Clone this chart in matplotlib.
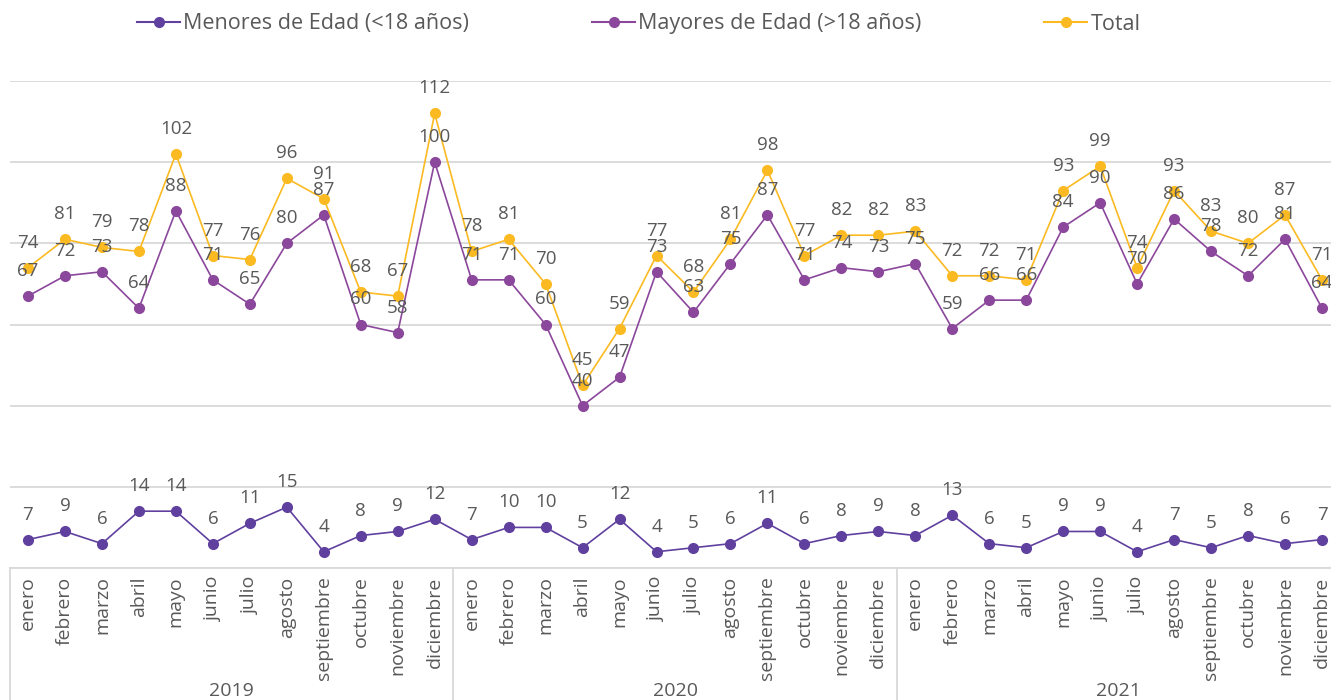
import matplotlib.pyplot as plt
import matplotlib.transforms as mtransforms
from matplotlib.lines import Line2D

plt.rcParams['font.family'] = ['Open Sans', 'DejaVu Sans']

# datos
meses = ["enero", "febrero", "marzo", "abril", "mayo", "junio", "julio",
         "agosto", "septiembre", "octubre", "noviembre", "diciembre"]
anios = ["2019", "2020", "2021"]

menores = [7, 9, 6, 14, 14, 6, 11, 15, 4, 8, 9, 12,
           7, 10, 10, 5, 12, 4, 5, 6, 11, 6, 8, 9,
           8, 13, 6, 5, 9, 9, 4, 7, 5, 8, 6, 7]
mayores = [67, 72, 73, 64, 88, 71, 65, 80, 87, 60, 58, 100,
           71, 71, 60, 40, 47, 73, 63, 75, 87, 71, 74, 73,
           75, 59, 66, 66, 84, 90, 70, 86, 78, 72, 81, 64]
total = [74, 81, 79, 78, 102, 77, 76, 96, 91, 68, 67, 112,
         78, 81, 70, 45, 59, 77, 68, 81, 98, 77, 82, 82,
         83, 72, 72, 71, 93, 99, 74, 93, 83, 80, 87, 71]

etiquetas = ["Menores de Edad (<18 años)", "Mayores de Edad (>18 años)", "Total"]
colores = ["#60409F", "#8B479B", "#FBBA22"]
gris = "#595959"

fig = plt.figure(figsize=(13.31, 7), dpi=100)
ax = fig.add_axes([9.5 / 1331, 132 / 700, 1.0, (568 - 81) / 700])

x = list(range(len(total)))
for serie, col in zip([menores, mayores, total], colores):
    ax.plot(x, serie, color=col, lw=1.2, marker="o", markersize=7, clip_on=False)
    for xi, v in zip(x, serie):
        ax.annotate(str(v), (xi, v), xytext=(0, 18), textcoords="offset points",
                    ha="center", va="center", fontsize=13.5, color=gris)

ax.set_xlim(-0.5, 35.5)
ax.set_ylim(0, 120)
ax.set_yticks(range(0, 121, 20))
ax.yaxis.grid(True, color="#D9D9D9", lw=1.3)
ax.set_axisbelow(True)
ax.tick_params(axis="y", left=False, labelleft=False)
for s in ["top", "right", "left"]:
    ax.spines[s].set_visible(False)
ax.spines["bottom"].set_color("#D9D9D9")
ax.spines["bottom"].set_linewidth(1.3)

ax.set_xticks(x)
ax.set_xticklabels(meses * 3, rotation=90, va="top", fontsize=14, color=gris)
ax.tick_params(axis="x", length=0, pad=6)

# separadores y años
tr = mtransforms.blended_transform_factory(ax.transData, fig.transFigure)
for b in [-0.5, 11.5, 23.5]:
    fig.add_artist(Line2D([b, b], [132 / 700, 0], transform=tr, color="#D9D9D9", lw=1.3))
for i, a in enumerate(anios):
    fig.text(i * 12 + 5.5, 9 / 700, a, transform=tr, ha="center", va="center",
             fontsize=14, color=gris)

handles = [Line2D([], [], color=c, lw=1.5, marker="o", markersize=7) for c in colores]
leg = fig.legend(handles, etiquetas, loc="center", bbox_to_anchor=(0.48, 1 - 24 / 700),
                 ncol=3, frameon=False, fontsize=15.5, handlelength=2.0,
                 handletextpad=0.15, columnspacing=5.7)
for t in leg.get_texts():
    t.set_color(gris)

fig.savefig("out.png", dpi=100)
